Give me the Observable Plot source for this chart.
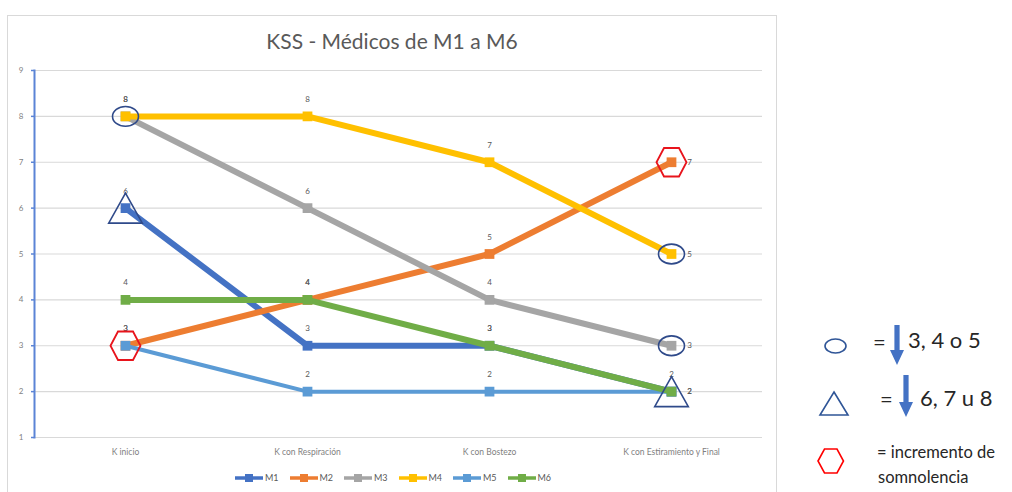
<!DOCTYPE html>
<html>
<head>
<meta charset="utf-8">
<script src="https://cdn.jsdelivr.net/npm/d3@7"></script>
<script src="https://cdn.jsdelivr.net/npm/@observablehq/plot@0.6"></script>
<style>
  body { margin: 0; background: #fff; font-family: Lato, "Open Sans", sans-serif; }
  #page { position: relative; width: 1012px; height: 492px; overflow: hidden; background: #fff; }
  #frame { position: absolute; left: 7px; top: 15px; width: 770px; height: 520px; border: 1px solid #d9d9d9; box-sizing: border-box; }
  #title { position: absolute; left: 7px; width: 770px; top: 28px; text-align: center; font-size: 21px; color: #595959; white-space: nowrap; }
  #chart { position: absolute; left: 0; top: 0; }
  #legend { position: absolute; left: 235px; top: 472px; display: flex; font-size: 9px; color: #595959; }
  .item { display: flex; align-items: center; width: 54.5px; }
  .item svg { margin-right: 2px; }
  #keys { position: absolute; left: 800px; top: 300px; }
</style>
</head>
<body>
<div id="page">
  <div id="frame"></div>
  <div id="chart"></div>
  <div id="title">KSS - Médicos de M1 a M6</div>
  <div id="legend"></div>
  <div id="keys"></div>
</div>
<script>
// Stages of the session (x axis)
const categories = ["K inicio", "K con Respiración", "K con Bostezo", "K con Estiramiento y Final"];

// KSS score per physician at each stage
const seriesNames = ["M1", "M2", "M3", "M4", "M5", "M6"];
const m1 = [6, 3, 3, 2];
const m2 = [3, 4, 5, 7];
const m3 = [8, 6, 4, 3];
const m4 = [8, 8, 7, 5];
const m5 = [3, 2, 2, 2];
const m6 = [4, 4, 3, 2];
const seriesValues = [m1, m2, m3, m4, m5, m6];
const seriesColors = ["#4472C4", "#ED7D31", "#A5A5A5", "#FFC000", "#5B9BD5", "#70AD47"];

const yTicks = [1, 2, 3, 4, 5, 6, 7, 8, 9];

// Highlighted points: drop of 3–5 (ellipse), drop of 6–8 (triangle), increase (hexagon)
const dropSmall = [["K inicio", 8], ["K con Estiramiento y Final", 5], ["K con Estiramiento y Final", 3]];
const dropLarge = [["K inicio", 6], ["K con Estiramiento y Final", 2]];
const increase = [["K inicio", 3], ["K con Estiramiento y Final", 7]];

const lastCat = categories[categories.length - 1];
const rows = seriesNames.flatMap((s, i) =>
  seriesValues[i].map((v, j) => ({ series: s, cat: categories[j], v }))
);
const toPts = arr => arr.map(([cat, v]) => ({ cat, v }));

// Custom outline shapes
const ellipseSym = {
  draw(ctx, size) {
    const r = Math.sqrt(size / Math.PI), rx = r * 1.18, ry = r * 0.9, k = 0.5523;
    ctx.moveTo(rx, 0);
    ctx.bezierCurveTo(rx, ry * k, rx * k, ry, 0, ry);
    ctx.bezierCurveTo(-rx * k, ry, -rx, ry * k, -rx, 0);
    ctx.bezierCurveTo(-rx, -ry * k, -rx * k, -ry, 0, -ry);
    ctx.bezierCurveTo(rx * k, -ry, rx, -ry * k, rx, 0);
    ctx.closePath();
  }
};
const triangleSym = {
  draw(ctx, size) {
    const r = Math.sqrt(size / Math.PI);
    ctx.moveTo(0, -r);
    ctx.lineTo(r * 1.12, r);
    ctx.lineTo(-r * 1.12, r);
    ctx.closePath();
  }
};
const hexagonSym = {
  draw(ctx, size) {
    const r = Math.sqrt(size / Math.PI);
    const w = r, h = r * 0.95;
    ctx.moveTo(-w, 0);
    ctx.lineTo(-w / 2, -h);
    ctx.lineTo(w / 2, -h);
    ctx.lineTo(w, 0);
    ctx.lineTo(w / 2, h);
    ctx.lineTo(-w / 2, h);
    ctx.closePath();
  }
};

const seriesMarks = seriesNames.flatMap((s, i) => {
  const data = rows.filter(d => d.series === s);
  return [
    Plot.line(data, { x: "cat", y: "v", stroke: seriesColors[i], strokeWidth: s === "M5" ? 4 : 6, strokeLinejoin: "round" }),
    Plot.dot(data, { x: "cat", y: "v", symbol: "square", r: 5.5, fill: seriesColors[i], stroke: null })
  ];
});

const chart = Plot.plot({
  width: 780,
  height: 492,
  marginLeft: 34,
  marginRight: 18,
  marginTop: 70,
  marginBottom: 55,
  style: { background: "transparent", fontFamily: "Lato, sans-serif", overflow: "visible" },
  x: { type: "point", domain: categories, padding: 0.5, label: null },
  y: { domain: [1, 9], label: null },
  marks: [
    Plot.gridY(yTicks, { stroke: "#d9d9d9", strokeOpacity: 1, strokeWidth: 1.2 }),
    Plot.axisX({ tickSize: 0, tickPadding: 11, fontSize: 8.5, fill: "#7f7f7f" }),
    Plot.axisY(yTicks, { tickSize: 3, tickPadding: 8, fontSize: 8, fill: "#7f7f7f", stroke: "#5b84d6", strokeWidth: 1.5 }),
    Plot.frame({ anchor: "left", stroke: "#5b84d6", strokeWidth: 2 }),
    ...seriesMarks,
    Plot.text(rows.filter(d => d.cat !== lastCat || d.series === "M5"),
      { x: "cat", y: "v", text: d => String(d.v), dy: -17, fontSize: 8, fill: "#595959" }),
    Plot.text(rows.filter(d => d.cat === lastCat && d.series !== "M5"),
      { x: "cat", y: "v", text: d => String(d.v), dx: 18, fontSize: 8, fill: "#595959" }),
    Plot.dot(toPts(dropSmall), { x: "cat", y: "v", symbol: ellipseSym, r: 11, fill: "none", stroke: "#2f4a8a", strokeWidth: 1.6 }),
    Plot.dot(toPts(dropLarge), { x: "cat", y: "v", symbol: triangleSym, r: 15, fill: "none", stroke: "#2f4a8a", strokeWidth: 1.6 }),
    Plot.dot(toPts(increase), { x: "cat", y: "v", symbol: hexagonSym, r: 15, fill: "none", stroke: "#e8141c", strokeWidth: 1.8 })
  ]
});
document.getElementById("chart").append(chart);

// Series legend below the plot
const legend = document.getElementById("legend");
seriesNames.forEach((s, i) => {
  const item = document.createElement("div");
  item.className = "item";
  item.innerHTML = `<svg width="28" height="10"><line x1="0" y1="5" x2="28" y2="5" stroke="${seriesColors[i]}" stroke-width="3.5"/><rect x="10" y="1" width="8" height="8" fill="${seriesColors[i]}"/></svg><span>${s}</span>`;
  legend.append(item);
});

// Key for the highlight shapes
const keyRows = [
  { shape: "ellipse", eq: "=", text: "3, 4 o 5" },
  { shape: "triangle", eq: "=", text: "6, 7 u 8" },
  { shape: "hexagon", eq: "= incremento de", text: "somnolencia" }
];
const arrowPath = (cx, y0, y1) => {
  const head = 15;
  return `M${cx - 2.6},${y0}H${cx + 2.6}V${y1 - head}H${cx + 7}L${cx},${y1}L${cx - 7},${y1 - head}H${cx - 2.6}Z`;
};
document.getElementById("keys").innerHTML = `
<svg width="212" height="192" font-family="Lato, sans-serif" fill="#262626">
  <ellipse cx="35.5" cy="46" rx="10.5" ry="7" fill="none" stroke="#2f5597" stroke-width="1.6"/>
  <text x="73" y="49.5" font-size="22">${keyRows[0].eq}</text>
  <path d="${arrowPath(97, 25, 65)}" fill="#4472C4"/>
  <text x="108" y="48" font-size="22">${keyRows[0].text}</text>
  <path d="M34,92L48,115H20Z" fill="none" stroke="#2f5597" stroke-width="1.6"/>
  <text x="80" y="106.5" font-size="22">${keyRows[1].eq}</text>
  <path d="${arrowPath(106, 75, 117)}" fill="#4472C4"/>
  <text x="120" y="106" font-size="22">${keyRows[1].text}</text>
  <path d="M18,161L24.5,149H37L43.5,161L37,173H24.5Z" fill="none" stroke="#ff0000" stroke-width="1.6"/>
  <text x="77" y="158" font-size="16.5">${keyRows[2].eq}</text>
  <text x="78" y="183" font-size="16.5">${keyRows[2].text}</text>
</svg>`;
</script>
</body>
</html>
